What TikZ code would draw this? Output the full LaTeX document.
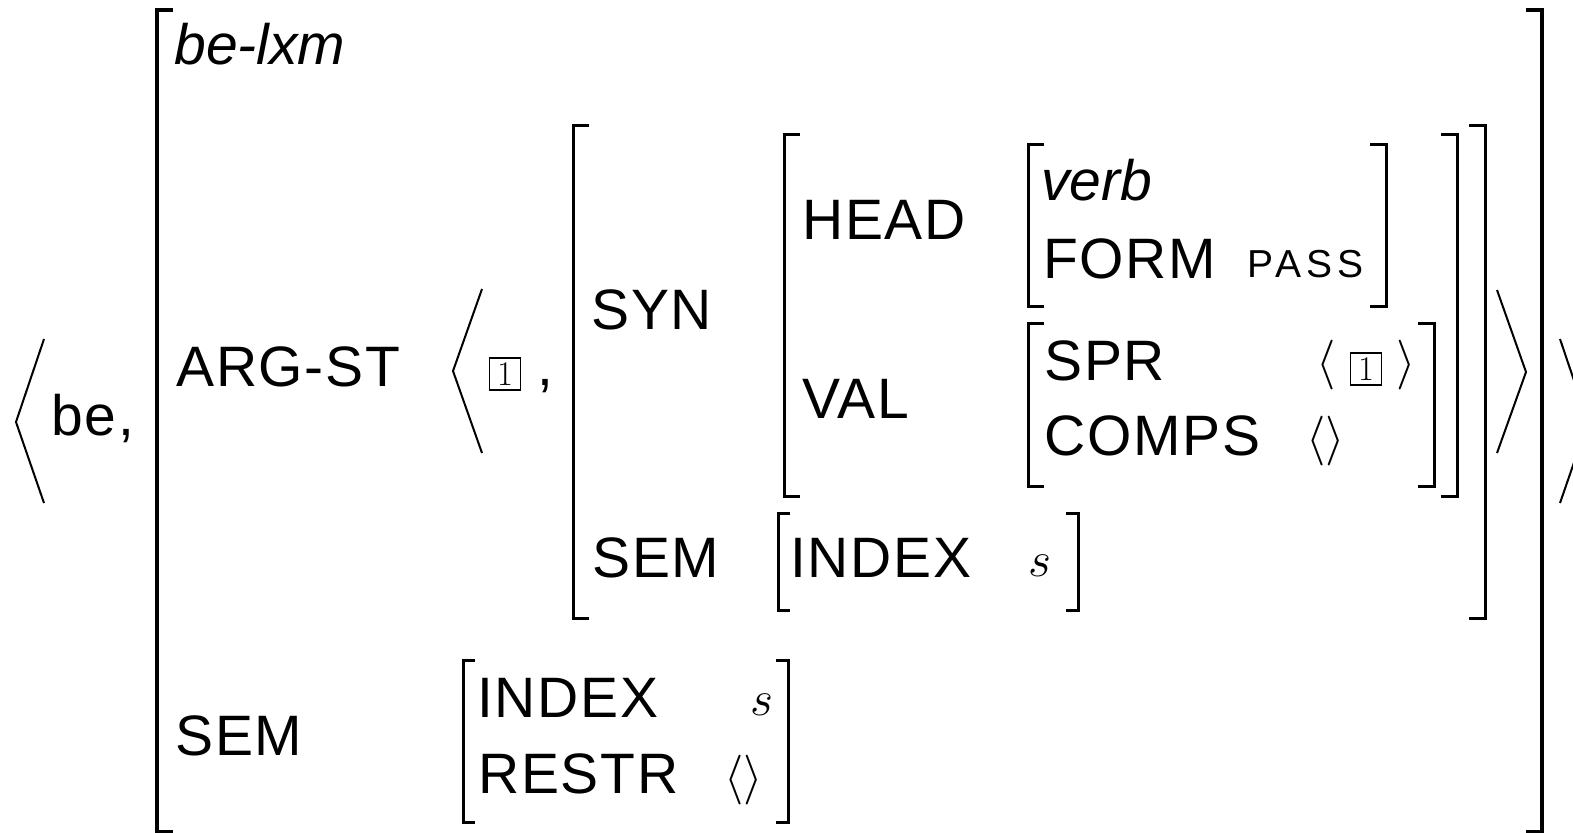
\documentclass[tikz,border=0pt]{standalone}
\usepackage{fontspec}
\setmainfont{Liberation Sans}
\usepackage{tikz}

\newcommand\avmfont{\fontsize{28.5}{34}\selectfont\addfontfeature{LetterSpace=3}}

\tikzset{
  lbl/.style={anchor=base west,inner sep=0pt,font=\avmfont},
  typ/.style={anchor=base west,inner sep=0pt,font=\fontsize{28.5}{34}\selectfont\itshape},
  sc/.style={anchor=base west,inner sep=0pt,font=\fontsize{19.5}{23}\selectfont\addfontfeature{LetterSpace=13}},
  ang/.style={inner sep=0pt,font=\fontsize{28.5}{34}\selectfont},
  tag/.style={draw,line width=.7pt,inner sep=0pt,minimum width=15.5pt,minimum height=16pt,font=\fontsize{16}{18}\selectfont},
  brk/.style={line width=1.5pt},
  bigbrk/.style={line width=2pt},
  bigang/.style={line width=1pt}
}

\begin{document}
\begin{tikzpicture}
  [x=0.5pt,y=-0.5pt]
  \useasboundingbox (0,0) rectangle (1573,832);

  % word and outer matrix
  \node[lbl] (be) at (51,435) {be,};
  \node[typ] (lxm) at (174,64) {be-lxm};
  \node[lbl] (argst) at (176,386) {ARG-ST};
  \node[lbl] (sem) at (175,755) {SEM};

  % ARG-ST list
  \node[tag] (t1) at (505,374) {$1$};
  \node[lbl] (comma) at (537,385) {,};
  \node[lbl] (syn) at (591,329) {SYN};
  \node[lbl] (head) at (802,239) {HEAD};
  \node[lbl] (val) at (802,418) {VAL};
  \node[typ] (verb) at (1041,200) {verb};
  \node[lbl] (form) at (1043,278) {FORM};
  \node[sc] (pass) at (1247,277) {PASS};
  \node[lbl] (spr) at (1044,380) {SPR};
  \node[lbl] (comps) at (1044,455) {COMPS};
  \node[ang] (sprl) at (1326,365) {$\langle$};
  \node[tag] (t2) at (1366,369) {$1$};
  \node[ang] (sprr) at (1406,365) {$\rangle$};
  \node[ang] (compsl) at (1326,441) {$\langle\rangle$};
  \node[lbl] (sem2) at (592,577) {SEM};
  \node[lbl] (idx2) at (790,577) {INDEX};
  \node[lbl] (s2) at (1028,576) {$s$};

  % SEM value
  \node[lbl] (idx) at (477,717) {INDEX};
  \node[lbl] (s1) at (750,715) {$s$};
  \node[lbl] (restr) at (478,793) {RESTR};
  \node[ang] (restrl) at (744,780) {$\langle\rangle$};

  % brackets
  \draw[bigbrk] (173,10) -- (157,10) -- (157,832) -- (173,832);
  \draw[bigbrk] (1526,10) -- (1542,10) -- (1542,832) -- (1526,832);
  \foreach \x/\t/\b in {573/125/618,784/134/496,1028/144/306,1028/323/486}
    \draw[brk] (\x+16,\t) -- (\x,\t) -- (\x,\b) -- (\x+16,\b);
  \foreach \x/\t/\b in {1485/125/618,1457/134/496,1386/144/306,1434/323/486}
    \draw[brk] (\x-16,\t) -- (\x,\t) -- (\x,\b) -- (\x-16,\b);
  \foreach \l/\r/\t/\b in {778/1078/513/610,463/788/660/822} {
    \draw[brk] (\l+12,\t) -- (\l,\t) -- (\l,\b) -- (\l+12,\b);
    \draw[brk] (\r-12,\t) -- (\r,\t) -- (\r,\b) -- (\r-12,\b);
  }

  % angle brackets
  \draw[bigang] (44,339) -- (16,422) -- (44,503);
  \draw[bigang] (1560,339) -- (1588,422) -- (1560,503);
  \draw[bigang] (482,289) -- (453,371) -- (482,453);
  \draw[bigang] (1497,290) -- (1526,372) -- (1497,453);
\end{tikzpicture}
\end{document}
